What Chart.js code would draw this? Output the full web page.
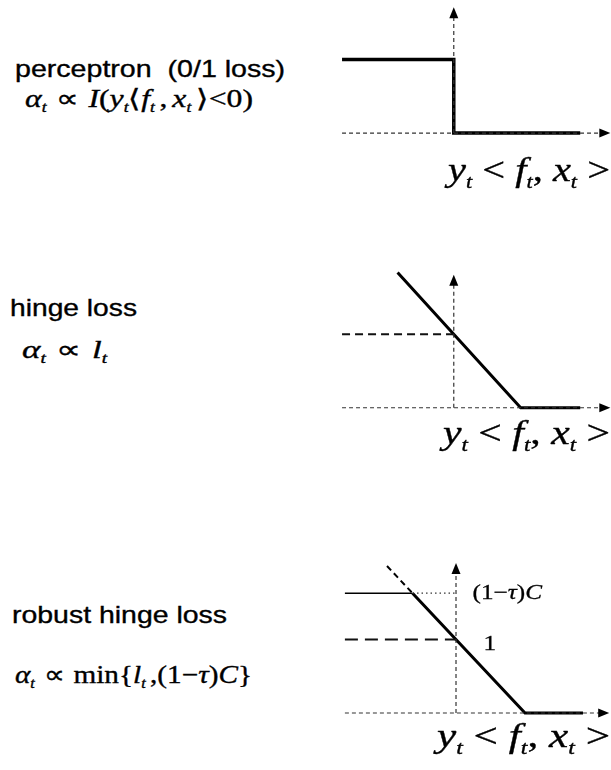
<!DOCTYPE html>
<html>
<head>
<meta charset="utf-8">
<script src="https://cdn.jsdelivr.net/npm/chart.js@4/dist/chart.umd.min.js"></script>
<style>
  html, body { margin: 0; padding: 0; background: #fff; }
  #page { position: relative; width: 611px; height: 770px; overflow: hidden; }
  .plot { position: absolute; left: 330px; width: 281px; }
  .txt { position: absolute; white-space: nowrap; line-height: 1; transform-origin: 0 0; color: #000; -webkit-text-stroke: 0.35px #000; }
  .sans { font-family: "Liberation Sans", Arial, sans-serif; font-size: 24px; }
  .math { font-family: "Liberation Serif", "Times New Roman", serif; font-size: 25px; }
  .math.axis { font-size: 34px; }
  .math i { font-style: italic; }
  .math sub { font-size: 0.55em; vertical-align: -0.35em; line-height: 0; font-style: italic; }
  .gap { display: inline-block; width: 0.3em; }
  .thin { display: inline-block; width: 0.15em; }
</style>
</head>
<body>
<div id="page">
  <div class="txt sans" data-w="270" style="left:15px; top:57px;">perceptron&nbsp;&nbsp;(0/1 loss)</div>
  <div class="txt math" data-w="228" style="left:25px; top:86px;"><i>α</i><sub>t</sub><span class="gap"></span>∝<span class="gap"></span><i>I</i>(<i>y</i><sub>t</sub>⟨<i>f</i><sub>t</sub><span class="thin"></span>,<span class="thin"></span><i>x</i><sub>t</sub><span class="thin"></span>⟩&lt;0)</div>

  <div class="txt sans" data-w="127" style="left:10px; top:296px;">hinge loss</div>
  <div class="txt math" data-w="85" style="left:22px; top:337px;"><i>α</i><sub>t</sub><span class="gap"></span>∝<span class="gap"></span><i>l</i><sub>t</sub></div>

  <div class="txt sans" data-w="215" style="left:12px; top:603px;">robust hinge loss</div>
  <div class="txt math" data-w="237" style="left:15px; top:662px;"><i>α</i><sub>t</sub><span class="gap"></span>∝<span class="gap"></span>min{<i>l</i><sub>t</sub><span class="thin"></span>,(1−<i>τ</i>)<i>C</i>}</div>

  <div class="plot" style="top:0; height:200px;"><canvas id="p1" width="281" height="200"></canvas></div>
  <div class="plot" style="top:250px; height:200px;"><canvas id="p2" width="281" height="200"></canvas></div>
  <div class="plot" style="top:530px; height:240px;"><canvas id="p3" width="281" height="240"></canvas></div>

  <div class="txt math axis" data-w="162" style="left:448px; top:153px;"><i>y</i><sub>t</sub> &lt; <i>f</i><sub>t</sub>, <i>x</i><sub>t</sub> &gt;</div>
  <div class="txt math axis" data-w="167" style="left:443px; top:416px;"><i>y</i><sub>t</sub> &lt; <i>f</i><sub>t</sub>, <i>x</i><sub>t</sub> &gt;</div>
  <div class="txt math axis" data-w="173" style="left:437px; top:719px;"><i>y</i><sub>t</sub> &lt; <i>f</i><sub>t</sub>, <i>x</i><sub>t</sub> &gt;</div>
</div>

<script>
// ---- values (margin on x, update weight on y) ----

// perceptron: 0/1 loss, a step down at margin 0
const perceptronX = [-1.67, 0, 0, 1.89];
const perceptronY = [1, 1, 0, 0];

// hinge loss: max(0, 1 - margin)
const hingeX = [-0.84, 1, 1.89];
const hingeY = [1.84, 0, 0];
const hingeUnitX = [-1.67, 0];
const hingeUnitY = [1, 1];

// robust hinge loss: hinge capped at (1 - tau) C
const capLevel = 1.63;
const capX = [-1.61, -0.63];
const capY = [capLevel, capLevel];
const robustX = [-0.63, 1, 1.84];
const robustY = [capLevel, 0, 0];
const uncappedX = [-1.0, -0.63];
const uncappedY = [2.0, capLevel];
const capGuideX = [-0.63, 0];
const capGuideY = [capLevel, capLevel];
const robustUnitX = [-1.61, 0];
const robustUnitY = [1, 1];

// axis extents: [left end, right tip] and [top tip]
const axis1 = { left: -1.67, right: 2.34, top: 1.71 };
const axis2 = { left: -1.67, right: 2.34, top: 1.81 };
const axis3 = { left: -1.61, right: 2.22, top: 2.04 };

// tick labels on the robust hinge y axis
const tickLabels = ['(1−τ)C', '1'];
const tickValues = [capLevel, 1];

// ---- helpers ----
const pts = (xs, ys) => xs.map((x, i) => ({ x, y: ys[i] }));

function line(xs, ys, width, dash, color) {
  return {
    data: pts(xs, ys),
    showLine: true,
    borderColor: color || '#000',
    borderWidth: width,
    borderDash: dash || [],
    pointRadius: 0,
    fill: false,
    tension: 0,
    borderCapStyle: 'butt',
    borderJoinStyle: 'miter',
    clip: false
  };
}

function axisLines(a) {
  return [
    line([a.left, a.right - 0.1], [0, 0], 1.2, [4, 3], '#333'),
    line([0, 0], [0, a.top - 0.1], 1.2, [4, 3], '#333')
  ];
}

// arrow heads at the end of the axes
const arrowPlugin = {
  id: 'axisArrows',
  afterDatasetsDraw(chart, args, opts) {
    const { ctx, scales } = chart;
    (opts.tips || []).forEach(t => {
      const px = scales.x.getPixelForValue(t.x);
      const py = scales.y.getPixelForValue(t.y);
      ctx.save();
      ctx.fillStyle = '#000';
      ctx.beginPath();
      if (t.dir === 'up') {
        ctx.moveTo(px, py); ctx.lineTo(px - 4.5, py + 11); ctx.lineTo(px + 4.5, py + 11);
      } else {
        ctx.moveTo(px, py); ctx.lineTo(px - 11, py - 4.5); ctx.lineTo(px - 11, py + 4.5);
      }
      ctx.closePath();
      ctx.fill();
      ctx.restore();
    });
  }
};

// y-axis value labels, with math italics for the symbols
const levelLabelPlugin = {
  id: 'levelLabels',
  afterDatasetsDraw(chart, args, opts) {
    const { ctx, scales } = chart;
    (opts.items || []).forEach(item => {
      const px = scales.x.getPixelForValue(item.x);
      const py = scales.y.getPixelForValue(item.y);
      ctx.save();
      ctx.translate(px, py);
      ctx.scale(1.2, 1);
      ctx.fillStyle = '#000';
      ctx.strokeStyle = '#000';
      ctx.lineWidth = 0.3;
      ctx.textBaseline = 'middle';
      let cx = 0;
      // split the label into upright and italic runs
      const runs = item.text.match(/[A-Za-zτ]|[^A-Za-zτ]+/g);
      runs.forEach(r => {
        const italic = /[A-Za-zτ]/.test(r);
        ctx.font = (italic ? 'italic ' : '') + '21px "Liberation Serif", serif';
        ctx.fillText(r, cx, 0);
        ctx.strokeText(r, cx, 0);
        cx += ctx.measureText(r).width;
      });
      ctx.restore();
    });
  }
};

function makePanel(id, xr, yr, datasets, tips, items) {
  return new Chart(document.getElementById(id), {
    type: 'scatter',
    data: { datasets },
    options: {
      responsive: false,
      devicePixelRatio: 1,
      animation: false,
      events: [],
      layout: { padding: 0 },
      scales: {
        x: { type: 'linear', display: false, min: xr[0], max: xr[1] },
        y: { type: 'linear', display: false, min: yr[0], max: yr[1] }
      },
      plugins: {
        legend: { display: false },
        tooltip: { enabled: false },
        axisArrows: { tips },
        levelLabels: { items: items || [] }
      }
    },
    plugins: [arrowPlugin, levelLabelPlugin]
  });
}

Chart.defaults.font.family = '"Liberation Serif", serif';

// perceptron
makePanel('p1', [-1.85, 2.35], [-0.91, 1.81], [
  ...axisLines(axis1),
  line(perceptronX, perceptronY, 3.5)
], [{ x: axis1.right, y: 0, dir: 'right' }, { x: 0, y: axis1.top, dir: 'up' }]);

// hinge
makePanel('p2', [-1.85, 2.35], [-0.575, 2.146], [
  ...axisLines(axis2),
  line(hingeUnitX, hingeUnitY, 2, [8, 5], '#111'),
  line(hingeX, hingeY, 3)
], [{ x: axis2.right, y: 0, dir: 'right' }, { x: 0, y: axis2.top, dir: 'up' }]);

// robust hinge
makePanel('p3', [-1.826, 2.246], [-0.776, 2.49], [
  ...axisLines(axis3),
  line(robustUnitX, robustUnitY, 2, [13, 7], '#111'),
  line(capGuideX, capGuideY, 1.2, [1.5, 3], '#333'),
  line(uncappedX, uncappedY, 2, [6, 4]),
  line(capX, capY, 1.5),
  line(robustX, robustY, 3)
], [{ x: axis3.right, y: 0, dir: 'right' }, { x: 0, y: axis3.top, dir: 'up' }],
[{ x: 0.24, y: tickValues[0], text: tickLabels[0] }, { x: 0.4, y: tickValues[1] - 0.07, text: tickLabels[1] }]);

// stretch each text block to its set width
document.querySelectorAll('.txt[data-w]').forEach(el => {
  const natural = el.getBoundingClientRect().width;
  const target = parseFloat(el.dataset.w);
  if (natural > 0) el.style.transform = 'scaleX(' + (target / natural).toFixed(3) + ')';
});
</script>
</body>
</html>
